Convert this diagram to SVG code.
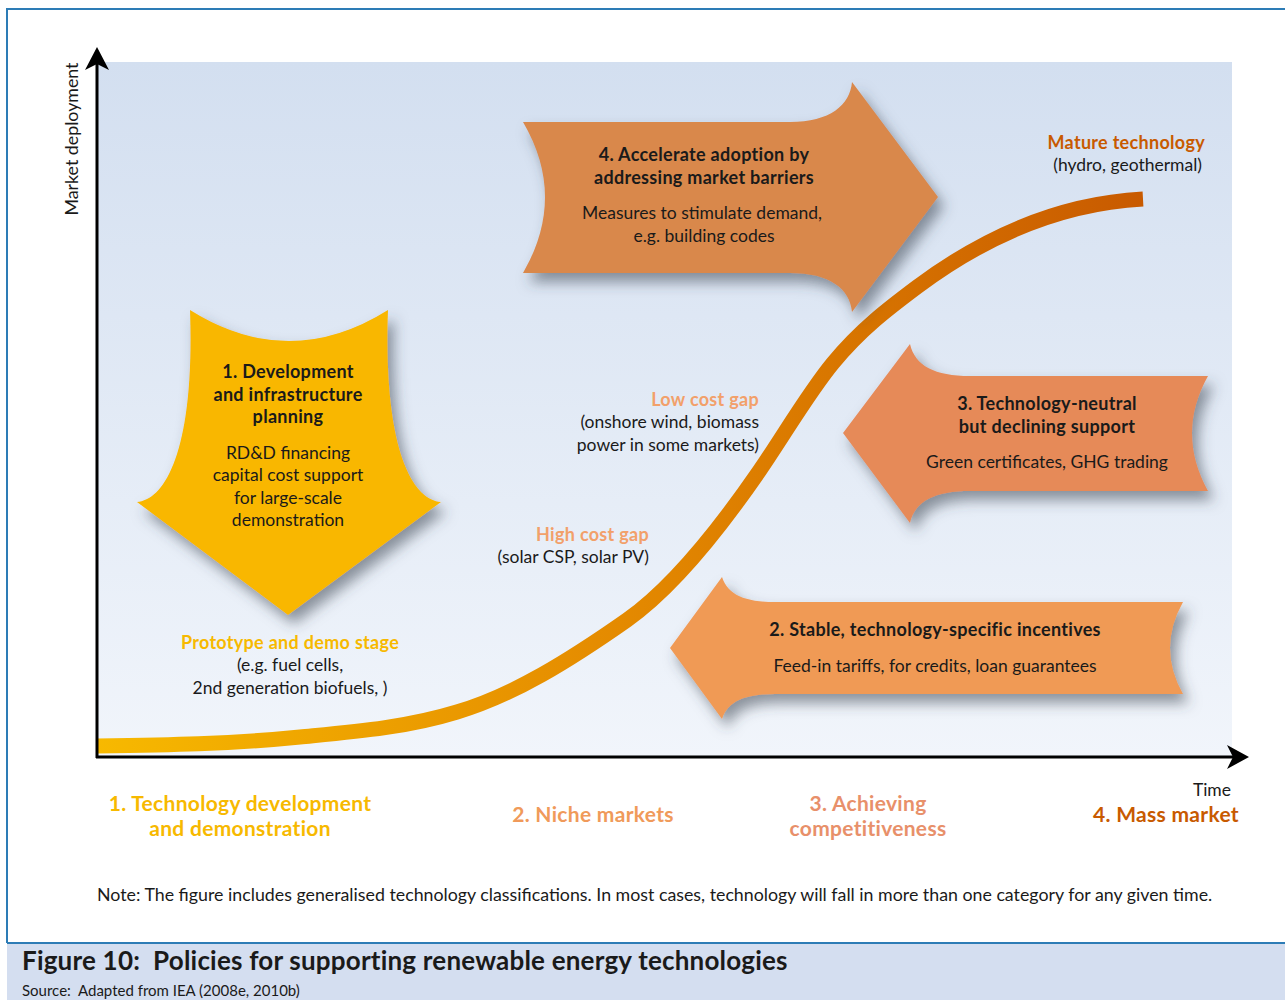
<svg xmlns="http://www.w3.org/2000/svg" width="1285" height="1000" viewBox="0 0 1285 1000">
<defs>
<linearGradient id="bg" x1="0" y1="0" x2="0" y2="1">
<stop offset="0" stop-color="#d3dff0"/>
<stop offset="1" stop-color="#f1f5fb"/>
</linearGradient>
<linearGradient id="curve" gradientUnits="userSpaceOnUse" x1="97" y1="0" x2="1143" y2="0">
<stop offset="0" stop-color="#f7b900"/>
<stop offset="0.5" stop-color="#e48a00"/>
<stop offset="1" stop-color="#c85a00"/>
</linearGradient>
<filter id="shadow" x="-20%" y="-20%" width="150%" height="160%">
<feDropShadow dx="6" dy="9" stdDeviation="7" flood-color="#3a4250" flood-opacity="0.55"/>
</filter>
</defs>
<style>
text{font-family:Lato,"Open Sans","Liberation Sans",sans-serif;fill:#1a1a1a}
.n{font-size:17.5px}
.b{font-weight:bold;font-size:18px;letter-spacing:0.3px}
.c{text-anchor:middle}
.r{text-anchor:end}
.stage{font-size:21px;font-weight:bold;letter-spacing:0.3px;text-anchor:middle}
.axis{stroke:#000;stroke-width:3;fill:none}
.ah{fill:#000}
</style>
<rect x="0" y="0" width="1285" height="1000" fill="#ffffff"/>
<path d="M7,943 L7,9 L1285,9" fill="none" stroke="#2d7cb6" stroke-width="2"/>
<rect x="7" y="943" width="1278" height="57" fill="#d4def0"/>
<line x1="7" y1="943" x2="1285" y2="943" stroke="#2d7cb6" stroke-width="2"/>
<rect x="97" y="62" width="1135" height="695" fill="url(#bg)"/>

<g id="connectors">
<path id="s-curve" d="M97,746 C165,745 232,744 300,737 C352,732 405,728 457,712 C514,695 570,660 627,620 C671,589 716,534 760,470 C784,435 809,392 833,363 C861,329 889,308 917,287 C992,231 1068,203 1143,199" fill="none" stroke="url(#curve)" stroke-width="15"/>
<line class="axis" x1="97" y1="758" x2="97" y2="60"/>
<path class="ah" d="M97,47 L109,70 L97,64 L85,70 Z"/>
<line class="axis" x1="96" y1="757" x2="1238" y2="757"/>
<path class="ah" d="M1249,757 L1227,769 L1233,757 L1227,745 Z"/>
</g>

<g id="node-4" filter="url(#shadow)">
<path d="M523,122 L790,122 C830,122 850,105 852,82 L938,197 L852,312 C850,289 830,273 790,273 L523,273 Q567,197 523,122 Z" fill="#d9884c"/>
</g>
<g id="node-4-text">
<text class="n b c" x="704" y="161">4. Accelerate adoption by</text>
<text class="n b c" x="704" y="184">addressing market barriers</text>
<text class="n c" x="702" y="219">Measures to stimulate demand,</text>
<text class="n c" x="704" y="242">e.g. building codes</text>
</g>

<g id="node-1" filter="url(#shadow)">
<path d="M190,310 Q289,372 388,310 C383,450 413,500 441,502 L288,615 L137,502 C165,500 195,450 190,310 Z" fill="#f9b700"/>
</g>
<g id="node-1-text">
<text class="n b c" x="288" y="378">1. Development</text>
<text class="n b c" x="288" y="401">and infrastructure</text>
<text class="n b c" x="288" y="423">planning</text>
<text class="n c" x="288" y="459">RD&amp;D financing</text>
<text class="n c" x="288" y="481">capital cost support</text>
<text class="n c" x="288" y="504">for large-scale</text>
<text class="n c" x="288" y="526">demonstration</text>
</g>

<g id="node-3" filter="url(#shadow)">
<path d="M843,433 L910,344 C915,366 935,376 970,376 L1208,376 Q1176,433 1208,491 L970,491 C935,491 915,501 910,523 Z" fill="#e68a58"/>
</g>
<g id="node-3-text">
<text class="n b c" x="1047" y="410">3. Technology-neutral</text>
<text class="n b c" x="1047" y="433">but declining support</text>
<text class="n c" x="1047" y="468">Green certificates, GHG trading</text>
</g>

<g id="node-2" filter="url(#shadow)">
<path d="M670,648 L722,577 C728,595 745,602 775,602 L1183,602 Q1157,648 1183,694 L775,694 C745,694 728,701 722,719 Z" fill="#f09a55"/>
</g>
<g id="node-2-text">
<text class="n b c" x="935" y="636">2. Stable, technology-specific incentives</text>
<text class="n c" x="935" y="672">Feed-in tariffs, for credits, loan guarantees</text>
</g>

<g id="labels">
<text class="n b r" x="1205" y="149" style="fill:#c85a00">Mature technology</text>
<text class="n r" x="1202" y="171">(hydro, geothermal)</text>
<text class="n b r" x="759" y="406" style="fill:#f2a06a">Low cost gap</text>
<text class="n r" x="759" y="428">(onshore wind, biomass</text>
<text class="n r" x="759" y="451">power in some markets)</text>
<text class="n b r" x="649" y="541" style="fill:#f2a06a">High cost gap</text>
<text class="n r" x="649" y="563">(solar CSP, solar PV)</text>
<text class="n b c" x="290" y="649" style="fill:#f7b900">Prototype and demo stage</text>
<text class="n c" x="290" y="671">(e.g. fuel cells,</text>
<text class="n c" x="290" y="694">2nd generation biofuels, )</text>
<text transform="translate(78,139) rotate(-90)" class="c" style="font-size:17.8px">Market deployment</text>
<text class="r" x="1231" y="796" style="font-size:17.5px">Time</text>
</g>

<g id="stages">
<text class="stage" x="240" y="811" style="fill:#f7b900">1. Technology development</text>
<text class="stage" x="240" y="836" style="fill:#f7b900">and demonstration</text>
<text class="stage" x="593" y="822" style="fill:#f09a5a">2. Niche markets</text>
<text class="stage" x="868" y="811" style="fill:#e8906a">3. Achieving</text>
<text class="stage" x="868" y="836" style="fill:#e8906a">competitiveness</text>
<text class="stage" x="1166" y="822" style="fill:#c85a00">4. Mass market</text>
</g>

<text x="97" y="901" style="font-size:17.8px">Note: The figure includes generalised technology classifications. In most cases, technology will fall in more than one category for any given time.</text>
<text x="22" y="970" style="font-size:26px;font-weight:bold;letter-spacing:0.2px">Figure 10:&#160; Policies for supporting renewable energy technologies</text>
<text x="22" y="996" style="font-size:15px">Source:&#160; Adapted from IEA (2008e, 2010b)</text>
</svg>
